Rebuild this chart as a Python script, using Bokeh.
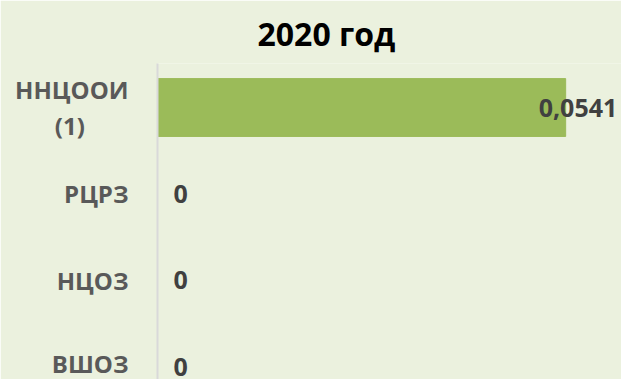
from bokeh.plotting import figure
from bokeh.models import ColumnDataSource, Range1d, FixedTicker
from bokeh.core.properties import value
from bokeh.embed import file_html
from bokeh.resources import INLINE

# ---- data ----
title_text = "2020 год"
categories = ["ННЦООИ\n(1)", "РЦРЗ", "НЦОЗ", "ВШОЗ"]
values = [0.0541, 0, 0, 0]
value_labels = ["0,0541", "0", "0", "0"]

BG = "#EBF1DE"
BAR = "#9BBB59"
FONT = "Open Sans"

x_max = 0.0615
idx = list(range(len(categories)))
offsets = [-27 if v > 0.8 * x_max else 16 for v in values]

src = ColumnDataSource(dict(y=idx, v=values, lab=value_labels, off=offsets))


def centered(label):
    # pad shorter lines with no-break spaces so lines look centred
    lines = label.split("\n")
    if len(lines) == 1:
        return label
    out = [lines[0]] + [ln + "\u00a0" * 7 for ln in lines[1:]]
    return "\n".join(out)


p = figure(width=621, height=379, output_backend="svg", toolbar_location=None,
           x_range=Range1d(0, x_max),
           y_range=Range1d(len(categories) - 1 + 0.15, -0.51),
           min_border_left=157, min_border_right=0, min_border_top=63,
           min_border_bottom=0, background_fill_color=BG,
           border_fill_color=BG, outline_line_color=None)

p.title.text = title_text
p.title.align = "left"
p.title.offset = 100
p.title.standoff = 18
p.title.text_font = FONT
p.title.text_font_style = "bold"
p.title.text_font_size = "32px"
p.title.text_color = "#000000"

p.hbar(y="y", right="v", left=0, height=0.67, color=BAR, source=src)

p.text(x="v", y="y", text="lab", x_offset="off", source=src,
       text_font=value(FONT), text_font_style="bold", text_font_size="25px",
       text_color="#404040", text_align="left", text_baseline="middle")

p.xaxis.visible = False
p.xgrid.visible = False
p.ygrid.visible = False

ya = p.yaxis[0]
ya.ticker = FixedTicker(ticks=idx)
ya.major_label_overrides = {i: centered(c) for i, c in zip(idx, categories)}
ya.major_tick_line_color = None
ya.minor_tick_line_color = None
ya.major_tick_out = 0
ya.major_tick_in = 0
ya.axis_line_color = "#D9D9D9"
ya.axis_line_width = 2
ya.major_label_standoff = 29
ya.major_label_text_font = FONT
ya.major_label_text_font_style = "bold"
ya.major_label_text_font_size = "24px"
ya.major_label_text_color = "#595959"
ya.major_label_text_line_height = 1.1

open("out.html", "w").write(file_html(p, INLINE))
